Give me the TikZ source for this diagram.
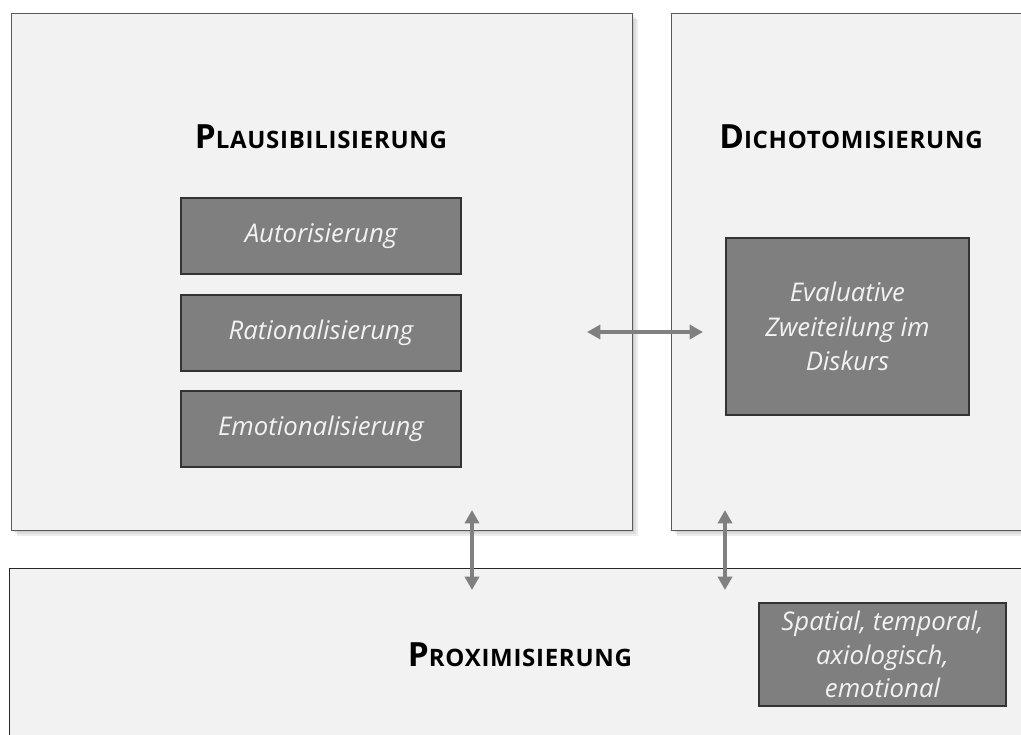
\documentclass[tikz,border=0pt]{standalone}
\usepackage{fontspec}
\setmainfont{Open Sans}
\usetikzlibrary{arrows.meta}
\definecolor{panel}{HTML}{F2F2F2}
\definecolor{innerfill}{HTML}{7F7F7F}
\definecolor{panelline}{HTML}{595959}
\definecolor{arrowc}{HTML}{808080}
\newcommand{\sctitle}[2]{{\addfontfeature{LetterSpace=3}\fontsize{25}{28}\selectfont #1\fontsize{18}{20}\selectfont #2}}
\begin{document}
\begin{tikzpicture}[x=0.75pt,y=-0.75pt,
  panelbox/.style={draw=panelline, line width=1.1pt, fill=panel, anchor=north west, inner sep=0pt},
  proxbox/.style={draw=black!85, line width=0.7pt, fill=panel, anchor=north west, inner sep=0pt},
  innerbox/.style={draw=black!80, line width=0.8pt, fill=innerfill, text=panel, font=\itshape\fontsize{19.3}{26}\selectfont, align=center, inner sep=0pt},
  titletext/.style={anchor=base, inner sep=0pt, font=\bfseries, text=black},
  dblarrow/.style={draw=arrowc, line width=3.6pt, {Triangle[length=10pt,width=10.5pt]}-{Triangle[length=10pt,width=10.5pt]}},
  shadowfill/.style={fill=black, opacity=0.07},
]
\useasboundingbox (0,0) rectangle (1021,735);
\clip (0,0) rectangle (1021,735);
\fill[white] (0,0) rectangle (1021,735);

% shadows of the upper panels
\foreach \d in {2,4,6}{
  \fill[shadowfill] (11+\d,13+\d) rectangle (632+\d,530+\d);
  \fill[shadowfill] (671+\d,13+\d) rectangle (1060,530+\d);
}

% panels
\node[panelbox, minimum width=465.75pt, minimum height=387.75pt] (plaus) at (11,13) {};
\node[panelbox, minimum width=300pt, minimum height=387.75pt] (dicho) at (671,13) {};
\node[proxbox, minimum width=790pt, minimum height=160pt] (prox) at (9,568) {};

% titles
\node[titletext] (plaustitle) at (321,148) {\sctitle{P}{LAUSIBILISIERUNG}};
\node[titletext] (dichotitle) at (851,148) {\sctitle{D}{ICHOTOMISIERUNG}};
\node[titletext] (proxtitle) at (520,666) {\sctitle{P}{ROXIMISIERUNG}};

% inner boxes
\node[innerbox, minimum width=210pt, minimum height=57pt] (auto) at (321,236) {Autorisierung};
\node[innerbox, minimum width=210pt, minimum height=57pt] (ratio) at (321,333) {Rationalisierung};
\node[innerbox, minimum width=210pt, minimum height=57pt] (emo) at (321,429) {Emotionalisierung};
\node[innerbox, minimum width=182.25pt, minimum height=132.75pt] (eval) at (847.5,326.5) {Evaluative\\Zweiteilung im\\Diskurs};
\node[innerbox, minimum width=185.25pt, minimum height=77.25pt, font=\itshape\fontsize{19.3}{25}\selectfont] (spatial) at (882.5,654.5) {Spatial, temporal,\\axiologisch,\\emotional};

% arrow end points
\coordinate (hL) at (587,332);
\coordinate (hR) at (703,332);
\coordinate (v1T) at (472,510);
\coordinate (v1B) at (472,590);
\coordinate (v2T) at (725,510);
\coordinate (v2B) at (725,590);

\draw[dblarrow] (hL) -- (hR);
\draw[dblarrow] (v1T) -- (v1B);
\draw[dblarrow] (v2T) -- (v2B);
\end{tikzpicture}
\end{document}
